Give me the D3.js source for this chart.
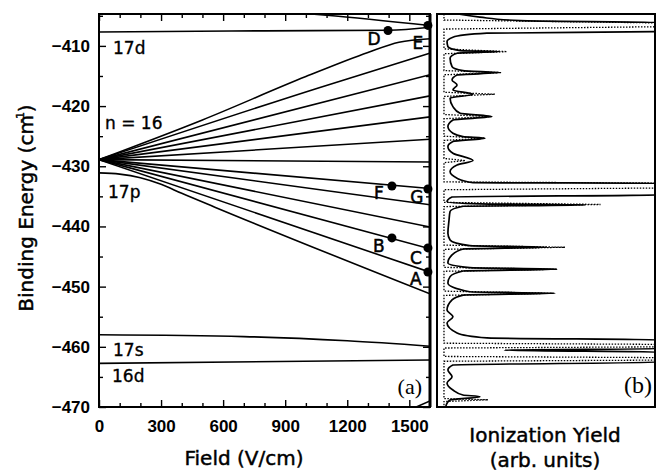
<!DOCTYPE html>
<html>
<head>
<meta charset="utf-8">
<script src="https://d3js.org/d3.v7.min.js"></script>
<style>
  body { margin: 0; background: #fff; }
  text { fill: #000; }
</style>
</head>
<body>
<svg width="657" height="476"></svg>
<script>
// axis ticks
var fieldTicks = [0, 300, 600, 900, 1200, 1500];
var energyTicks = [-410, -420, -430, -440, -450, -460, -470];

// energy levels: [field V/cm, binding energy cm-1]
var level17d = [[0, -407.7], [800, -407.5], [1400, -407.4], [1600, -406.9]];
var levelTop = [[850, -404.2], [1100, -404.9], [1600, -406.6]];
var fanLines = [
  [[0, -428.9], [500, -422.3], [1000, -415.1], [1300, -411.1], [1450, -409.4], [1600, -408.8]],
  [[0, -428.9], [1068, -416.9], [1600, -411.2]],
  [[0, -428.9], [1600, -414.8]],
  [[0, -428.9], [1600, -418.3]],
  [[0, -428.9], [1600, -421.8]],
  [[0, -428.9], [1600, -425.5]],
  [[0, -428.9], [1600, -429.3]],
  [[0, -428.9], [1600, -433.7]],
  [[0, -428.9], [1600, -436.4]],
  [[0, -428.9], [1600, -440.1]],
  [[0, -428.9], [1600, -443.7]],
  [[0, -428.9], [1600, -447.6]]
];
var level17p = [[0, -431.1], [100, -431.3], [200, -431.9], [300, -433.0], [400, -434.5], [560, -436.8], [1600, -451.2]];
var level17s = [[0, -458.0], [700, -458.3], [1200, -459.0], [1600, -459.9]];
var level16d = [[0, -462.75], [1600, -462.2]];
var levelBottom = [[1520, -470.2], [1600, -469.0]];

// marked points
var markNames = ["D", "E", "F", "G", "B", "C", "A"];
var markField = [1397, 1590, 1416, 1590, 1416, 1590, 1590];
var markEnergy = [-407.45, -406.6, -433.27, -433.77, -441.9, -443.57, -447.56];

// ionization spectrum: [binding energy, yield (arb.)]
var solidTrace = [
  [-404.7, 9.6], [-405.23, 19.7], [-405.8, 38.1], [-406.13, 105], [-407.62, 105], [-407.89, 22.9],
  [-408.55, 7.3], [-409.29, 4.6], [-410.12, 5.0], [-410.78, 10.6], [-410.95, 28.9], [-411.21, 9.2],
  [-412.04, 6.0], [-413.44, 6.9], [-414.1, 11.9], [-414.44, 28.9], [-414.82, 9.2], [-415.65, 6.9],
  [-416.48, 9.2], [-417.31, 7.3], [-418.03, 16.5], [-418.69, 6.0], [-420.09, 7.3], [-421.19, 10.6],
  [-421.75, 25.2], [-422.3, 7.3], [-423.41, 5.0], [-424.51, 7.3], [-425.07, 11.9], [-425.34, 22.0],
  [-425.9, 7.3], [-426.74, 5.0], [-427.83, 7.3], [-429.06, 16.5], [-429.78, 9.2], [-430.89, 6.0],
  [-431.99, 9.2], [-432.72, 16.5], [-432.82, 105], [-434.76, 105], [-435.1, 6.9], [-435.88, 4.6],
  [-436.25, 20], [-436.43, 68], [-436.65, 12], [-437.5, 6.0], [-439.0, 5.5], [-441.13, 5.0],
  [-442.24, 6.0], [-443.2, 15], [-443.46, 50.5], [-443.75, 12], [-444.73, 6.9], [-446.07, 5.0],
  [-446.85, 15], [-447.11, 55.0], [-447.4, 12], [-448.34, 6.0], [-449.39, 5.0], [-450.85, 15],
  [-451.1, 54.1], [-451.4, 12], [-452.21, 6.9], [-453.88, 4.6], [-454.99, 7.3], [-456.04, 4.6],
  [-457.7, 9.2], [-458.53, 22.9], [-458.86, 105], [-460.3, 105], [-460.55, 31], [-460.9, 105],
  [-462.52, 105], [-463.02, 7.3], [-463.85, 5.0], [-464.96, 6.9], [-466.01, 4.6], [-467.17, 7.3],
  [-468.0, 11.9], [-468.29, 19.7], [-468.83, 6.0], [-469.38, 4.6], [-470, 4.0]
];
var dottedTrace = [
  [-404.7, 3.2], [-405.7, 3.2], [-406.2, 105], [-406.8, 105], [-407.2, 3.2], [-410.5, 3.2],
  [-410.95, 32.1], [-411.3, 3.2], [-414.1, 3.2], [-414.44, 29.5], [-414.8, 3.2], [-417.7, 3.2],
  [-418.03, 26.6], [-418.4, 3.2], [-421.4, 3.2], [-421.75, 25.0], [-422.1, 3.2], [-425.0, 3.2],
  [-425.34, 22.0], [-425.7, 3.2], [-428.7, 3.2], [-429.06, 13], [-429.4, 3.2], [-432.6, 3.2],
  [-432.8, 105], [-433.6, 105], [-433.9, 3.2], [-436.0, 3.2], [-436.35, 75], [-436.7, 3.2],
  [-443.1, 3.2], [-443.46, 58.7], [-443.8, 3.2], [-446.8, 3.2], [-447.11, 55.0], [-447.45, 3.2],
  [-450.75, 3.2], [-451.1, 53], [-451.45, 3.2], [-459.4, 3.2], [-459.6, 105], [-460.0, 105],
  [-460.2, 3.2], [-461.6, 3.2], [-461.8, 105], [-462.2, 105], [-462.4, 3.2], [-468.6, 3.2],
  [-468.8, 23.4], [-469.1, 3.2], [-470, 3.2]
];

var svg = d3.select("svg");

var x = d3.scaleLinear().domain([0, 1600]).range([99, 430]);
var y = d3.scaleLinear().domain([-470, -404.7]).range([407, 14]);
var xb = d3.scaleLinear().domain([0, 100]).range([437, 655]);

var defs = svg.append("defs");
defs.append("clipPath").attr("id", "clipA")
  .append("rect").attr("x", 99).attr("y", 14).attr("width", 331).attr("height", 393);
defs.append("clipPath").attr("id", "clipB")
  .append("rect").attr("x", 437).attr("y", 14).attr("width", 218).attr("height", 393);

// ---- panel (a)
var levelLine = d3.line()
  .x(function(d) { return x(d[0]); })
  .y(function(d) { return y(d[1]); })
  .curve(d3.curveMonotoneX);

var allLevels = [level17d, levelTop, level17p, level17s, level16d, levelBottom].concat(fanLines);

svg.append("g").attr("clip-path", "url(#clipA)")
  .selectAll("path")
  .data(allLevels)
  .enter().append("path")
  .attr("d", levelLine)
  .attr("fill", "none")
  .attr("stroke", "#000")
  .attr("stroke-width", 1.6);

// axes, ticks pointing inward
var tickFont = "'Liberation Sans', Arial, sans-serif";
var minorE = d3.range(-465, -404, 10);
var minorF = d3.range(100, 1600, 100).filter(function(v) { return v % 300; });

svg.append("g").attr("transform", "translate(99,0)")
  .call(d3.axisLeft(y).tickValues(energyTicks).tickSize(-7).tickPadding(9).tickFormat(d3.format("d")));
svg.append("g").attr("transform", "translate(99,0)")
  .call(d3.axisLeft(y).tickValues(minorE).tickSize(-4).tickFormat(""));
svg.append("g").attr("transform", "translate(430,0)")
  .call(d3.axisRight(y).tickValues(energyTicks).tickSize(-7).tickFormat(""));
svg.append("g").attr("transform", "translate(430,0)")
  .call(d3.axisRight(y).tickValues(minorE).tickSize(-4).tickFormat(""));

svg.append("g").attr("transform", "translate(0,407)")
  .call(d3.axisBottom(x).tickValues(fieldTicks).tickSize(-7).tickPadding(13).tickFormat(d3.format("d")));
svg.append("g").attr("transform", "translate(0,407)")
  .call(d3.axisBottom(x).tickValues(minorF).tickSize(-4).tickFormat(""));
svg.append("g").attr("transform", "translate(0,14)")
  .call(d3.axisTop(x).tickValues(fieldTicks).tickSize(-7).tickFormat(""));
svg.append("g").attr("transform", "translate(0,14)")
  .call(d3.axisTop(x).tickValues(minorF).tickSize(-4).tickFormat(""));

svg.selectAll(".domain").remove();
svg.selectAll(".tick line").attr("stroke", "#000").attr("stroke-width", 1.4);
svg.selectAll(".tick text")
  .attr("font-family", tickFont).attr("font-size", 17).attr("font-weight", "bold");

svg.append("rect").attr("x", 99).attr("y", 14).attr("width", 331).attr("height", 393)
  .attr("fill", "none").attr("stroke", "#000").attr("stroke-width", 2);
svg.append("line").attr("x1", 430).attr("x2", 430).attr("y1", 14).attr("y2", 407)
  .attr("stroke", "#000").attr("stroke-width", 3);

// marked points
var marks = markNames.map(function(n, i) { return { name: n, f: markField[i], e: markEnergy[i] }; });
var labelShift = { D: [-14, 8], E: [-10, 17], F: [-13, 7], G: [-11, 8], B: [-13, 8], C: [-12, 10], A: [-12, 7] };

svg.selectAll("circle.mark").data(marks).enter().append("circle")
  .attr("class", "mark")
  .attr("cx", function(d) { return x(d.f); })
  .attr("cy", function(d) { return y(d.e); })
  .attr("r", 4.5).attr("fill", "#000");

svg.selectAll("text.mark").data(marks).enter().append("text")
  .attr("class", "mark")
  .attr("x", function(d) { return x(d.f) + labelShift[d.name][0]; })
  .attr("y", function(d) { return y(d.e) + labelShift[d.name][1]; })
  .attr("dy", "0.36em")
  .attr("text-anchor", "middle")
  .attr("font-family", "'DejaVu Sans', sans-serif").attr("font-size", 17)
  .attr("stroke", "#000").attr("stroke-width", 0.5)
  .text(function(d) { return d.name; });

// level labels
var labelFont = "'DejaVu Sans', sans-serif";
[["17d", 113, 54], ["n = 16", 105, 129], ["17p", 108, 198], ["17s", 113, 356], ["16d", 112, 382]].forEach(function(t) {
  svg.append("text").attr("x", t[1]).attr("y", t[2])
    .attr("font-family", labelFont).attr("font-size", 17)
    .attr("stroke", "#000").attr("stroke-width", 0.35)
    .text(t[0]);
});

svg.append("text").attr("x", 422).attr("y", 394).attr("text-anchor", "end")
  .attr("font-family", "'Liberation Serif', 'Times New Roman', serif").attr("font-size", 22)
  .text("(a)");

// ---- panel (b)
var dotLine = d3.line()
  .x(function(d) { return xb(d[1]); })
  .y(function(d) { return y(d[0]); });
var solidLine = d3.line()
  .x(function(d) { return xb(d[1]); })
  .y(function(d) { return y(d[0]); })
  .curve(d3.curveMonotoneY);

var gb = svg.append("g").attr("clip-path", "url(#clipB)");
gb.append("path").datum(dottedTrace)
  .attr("d", dotLine).attr("fill", "none")
  .attr("stroke", "#000").attr("stroke-width", 1.3).attr("stroke-dasharray", "1.5,1.5");
gb.append("path").datum(solidTrace)
  .attr("d", solidLine).attr("fill", "none")
  .attr("stroke", "#000").attr("stroke-width", 1.7).attr("stroke-linejoin", "round");

svg.append("rect").attr("x", 437).attr("y", 14).attr("width", 218).attr("height", 393)
  .attr("fill", "none").attr("stroke", "#000").attr("stroke-width", 2);

svg.append("text").attr("x", 652).attr("y", 393).attr("text-anchor", "end")
  .attr("font-family", "'Liberation Serif', 'Times New Roman', serif").attr("font-size", 24)
  .text("(b)");

// ---- axis titles
var titleFont = "'DejaVu Sans', sans-serif";
svg.append("text").attr("x", 244).attr("y", 465).attr("text-anchor", "middle")
  .attr("font-family", titleFont).attr("font-size", 20)
  .attr("stroke", "#000").attr("stroke-width", 0.45)
  .text("Field (V/cm)");

var yt = svg.append("text").attr("transform", "translate(33,208) rotate(-90)")
  .attr("text-anchor", "middle")
  .attr("font-family", titleFont).attr("font-size", 20)
  .attr("stroke", "#000").attr("stroke-width", 0.45);
yt.append("tspan").text("Binding Energy (cm");
yt.append("tspan").attr("font-size", 11).attr("dy", -9).attr("dx", -8).text("-1");
yt.append("tspan").attr("dy", 9).text(")");

svg.append("text").attr("x", 545).attr("y", 442).attr("text-anchor", "middle")
  .attr("font-family", titleFont).attr("font-size", 20)
  .attr("stroke", "#000").attr("stroke-width", 0.45)
  .text("Ionization Yield");
svg.append("text").attr("x", 545).attr("y", 467).attr("text-anchor", "middle")
  .attr("font-family", titleFont).attr("font-size", 20)
  .attr("stroke", "#000").attr("stroke-width", 0.45)
  .text("(arb. units)");
</script>
</body>
</html>
